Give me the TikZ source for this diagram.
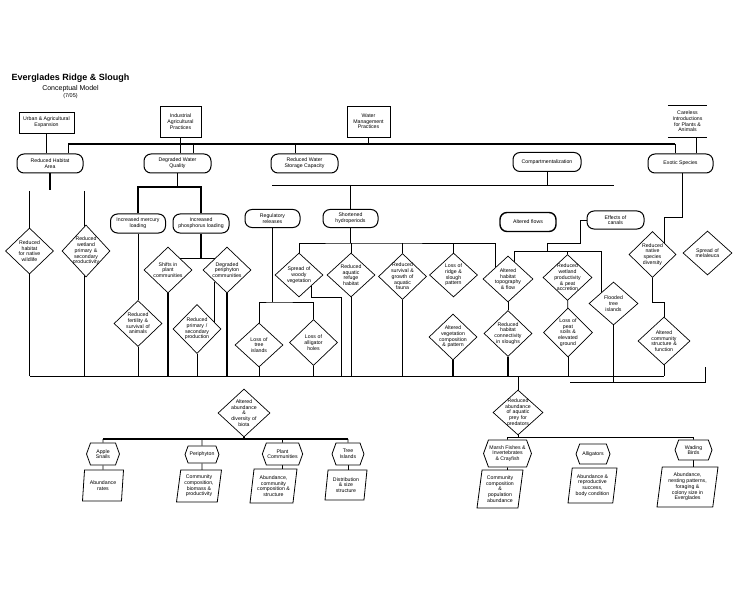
\documentclass[tikz,border=0pt]{standalone}
\usepackage{fontspec}
\setmainfont{Liberation Sans}
\usepackage{tikz}
\usetikzlibrary{shapes.geometric, shapes.symbols, positioning}
\pgfdeclarelayer{back}
\pgfsetlayers{back,main}

\begin{document}
\begin{tikzpicture}[x=1pt, y=-1pt,
  font=\fontsize{5.2}{5.7}\selectfont,
  driver/.style={rectangle, draw=black, line width=0.8pt, fill=white, align=center, inner sep=1pt},
  stress/.style={rectangle, rounded corners=7pt, draw=black, line width=1pt, fill=white, align=center, inner sep=1pt, minimum height=19pt},
  effect/.style={diamond, aspect=1, draw=black, line width=0.7pt, fill=white, align=center, inner sep=-5pt, text width=30pt, minimum width=48pt, minimum height=46pt},
  attrib/.style={signal, signal to=west and east, signal pointer angle=140, draw=black, line width=0.8pt, fill=white, align=center, inner sep=1pt},
  measure/.style={trapezium, trapezium left angle=80, trapezium right angle=100, trapezium stretches body, draw=black, line width=0.8pt, fill=white, align=center, inner sep=1pt},
  link/.style={line width=0.8pt},
  heavy/.style={line width=1.8pt}
]
\useasboundingbox (0,0) rectangle (744,596);

\node[font=\fontsize{9}{10}\selectfont\bfseries, inner sep=0pt] (title) at (70.5,78) {Everglades Ridge \& Slough};
\node[font=\fontsize{7}{8}\selectfont, inner sep=0pt, below=2.5pt of title] (subtitle) {Conceptual Model};
\node[font=\fontsize{5.5}{6}\selectfont, inner sep=0pt, below=1.5pt of subtitle] (date) {(7/05)};

\node[driver, minimum width=55pt, minimum height=21pt] (urban) at (46.5,122.5) {Urban \& Agricultural\\Expansion};
\node[driver, minimum width=41pt, minimum height=31pt] (agri) at (180.5,121.5) {Industrial\\Agricultural\\Practices};
\node[driver, minimum width=43pt, minimum height=31pt] (water) at (368.5,121.5) {Water\\Management\\Practices};
\node[align=center, inner sep=1pt, minimum width=39pt, minimum height=31pt] (intro) at (687.5,121.5) {Careless\\Introductions\\for Plants \&\\Animals};
\draw[line width=0.8pt] (intro.north west) -- (intro.north east) (intro.south west) -- (intro.south east);

\node[stress, minimum width=66pt] (habitat) at (50,163.5) {Reduced Habitat\\Area};
\node[stress, minimum width=67pt] (quality) at (177.5,163.5) {Degraded Water\\Quality};
\node[stress, minimum width=67pt] (storage) at (304.5,163.5) {Reduced Water\\Storage Capacity};
\node[stress, minimum width=68pt] (compart) at (547,162) {Compartmentalization};
\node[stress, minimum width=65pt] (exotic) at (680.5,163.5) {Exotic Species};

\node[stress, minimum width=55pt] (mercury) at (138,223.5) {Increased mercury\\loading};
\node[stress, minimum width=56pt] (phosph) at (201,223.5) {Increased\\phosphorus loading};
\node[stress, minimum width=55pt, minimum height=18pt] (releases) at (272.5,218.5) {Regulatory\\releases};
\node[stress, minimum width=55pt, minimum height=18pt] (hydro) at (350.5,218.5) {Shortened\\hydroperiods};
\node[stress, line width=1.4pt, minimum width=56pt] (flows) at (528,222) {Altered flows};
\node[stress, minimum width=57pt, minimum height=18pt] (canals) at (615.5,220) {Effects of\\canals};

\node[effect] (wildlife) at (29.5,251) {Reduced\\habitat\\for native\\wildlife};
\node[effect, minimum height=52pt] (product) at (86,251) {Reduced\\wetland\\primary \&\\secondary\\productivity};
\node[effect] (plants) at (168,270) {Shifts in\\plant\\communities};
\node[effect] (periph) at (227,270) {Degraded\\periphyton\\communities};
\node[effect] (fertil) at (138,323.5) {Reduced\\fertility \&\\survival of\\animals};
\node[effect, minimum height=49pt] (primary) at (197,329) {Reduced\\primary /\\secondary\\production};
\node[effect, minimum height=44pt] (woody) at (299,275) {Spread of\\woody\\vegetation};
\node[effect, minimum height=44pt] (refuge) at (351,275) {Reduced\\aquatic\\refuge\\habitat};
\node[effect] (survival) at (402.5,276.5) {Reduced\\survival \&\\growth of\\aquatic\\fauna};
\node[effect, minimum height=44pt] (pattern) at (453.5,275) {Loss of\\ridge \&\\slough\\pattern};
\node[effect, minimum width=50pt] (topo) at (508,279) {Altered\\habitat\\topography\\\& flow};
\node[effect] (vegcomp) at (453,337) {Altered\\vegetation\\composition\\\& pattern};
\node[effect] (connect) at (508,333.5) {Reduced\\habitat\\connectivity\\in sloughs};
\node[effect, minimum height=44pt] (tislands) at (259,345) {Loss of\\tree\\islands};
\node[effect] (aholes) at (313.5,342.5) {Loss of\\alligator\\holes};
\node[effect, minimum width=49pt] (peat) at (567.5,277.5) {Reduced\\wetland\\productivity\\\& peat\\accretion};
\node[effect, minimum width=49pt, minimum height=49pt] (soils) at (568,332.5) {Loss of\\peat\\soils \&\\elevated\\ground};
\node[effect, minimum width=49pt, minimum height=43pt] (flooded) at (613.5,303.5) {Flooded\\tree\\islands};
\node[effect, minimum width=47pt] (natives) at (652.5,254.5) {Reduced\\native species\\diversity};
\node[effect, minimum width=49pt, minimum height=44pt] (melal) at (707.5,253) {Spread of\\melaleuca};
\node[effect, minimum width=52pt, minimum height=48pt] (commun) at (664,341) {Altered\\community\\structure \&\\function};

\node[effect, minimum width=52pt, minimum height=48pt] (fauna) at (244,413) {Altered\\abundance \&\\diversity of\\biota};
\node[effect, minimum width=50pt, minimum height=45pt] (prey) at (518,412.5) {Reduced\\abundance\\of aquatic\\prey for\\predators};

\node[attrib, minimum width=33pt, minimum height=22pt] (snails) at (103,454) {Apple\\Snails};
\node[attrib, minimum width=34pt, minimum height=17pt] (periattr) at (202,454.5) {Periphyton};
\node[attrib, minimum width=39pt, minimum height=22pt] (plantcom) at (282.5,454) {Plant\\Communities};
\node[attrib, minimum width=32pt, minimum height=22pt] (treeisl) at (348,454) {Tree\\Islands};
\node[attrib, minimum width=39pt, minimum height=27pt] (marsh) at (507.5,453.5) {Marsh Fishes \&\\Invertebrates\\\& Crayfish};
\node[attrib, minimum width=34pt, minimum height=20pt] (gators) at (593,454) {Alligators};
\node[attrib, minimum width=37pt, minimum height=20pt] (birds) at (693.5,450) {Wading\\Birds};

\node[measure, minimum width=41pt, minimum height=31pt] (snailm) at (103,485.5) {Abundance\\rates};
\node[measure, minimum width=45pt, minimum height=32pt] (perim) at (199,486) {Community\\composition,\\biomass \&\\productivity};
\node[measure, minimum width=47pt, minimum height=34pt] (plantm) at (273.5,486) {Abundance,\\community\\composition \&\\structure};
\node[measure, minimum width=42pt, minimum height=30pt] (treem) at (346,485) {Distribution\\\& size\\structure};
\node[measure, minimum width=46pt, minimum height=38pt] (marshm) at (500,489) {Community\\composition\\\&\\population\\abundance};
\node[measure, minimum width=49pt, minimum height=35pt] (gatorm) at (592.5,485.5) {Abundance \&\\reproductive\\success,\\body condition};
\node[measure, minimum width=61pt, minimum height=40pt] (birdm) at (687.5,487) {Abundance,\\nesting patterns,\\foraging \&\\colony size in\\Everglades};

\coordinate (busL) at (68,144);
\coordinate (busR) at (675,144);
\coordinate (busQ) at (193,144);
\coordinate (busS) at (295,144);
\coordinate (lowL) at (29.5,376);
\coordinate (lowR) at (664,376);
\coordinate (habj) at (50,190);
\coordinate (w1) at (29.5,191);
\coordinate (w2) at (84,191);
\coordinate (qj) at (177.5,187);
\coordinate (pj) at (201,258.5);
\coordinate (cL) at (272,185);
\coordinate (cR) at (614,185);
\coordinate (hj) at (350.5,243);
\coordinate (rj) at (272.5,302);
\coordinate (wj) at (341,297);
\coordinate (kj) at (580,243);
\coordinate (kk) at (547,251);
\coordinate (k1) at (514,251);
\coordinate (k2) at (601,251);
\coordinate (lowL2) at (570,382);
\coordinate (lowR2) at (705,382);
\coordinate (stub) at (705,367);
\coordinate (ej) at (682,217);
\coordinate (ek) at (664,217);
\coordinate (nj) at (652.5,302);
\coordinate (aj) at (244,439);
\coordinate (bj) at (518,437);

\begin{pgfonlayer}{back}
\draw[line width=1.2pt] (busL) -- (busR);
\draw[link] (urban) -- (urban |- habitat.north);
\draw[link] (busL) -- (busL |- habitat.north);
\draw[link] (agri) -- (agri |- quality.north);
\draw[link] (busQ) -- (busQ |- quality.north);
\draw[link] (water) -- (water |- busL);
\draw[link] (busS) -- (busS |- storage.north);
\draw[link] (busR) -- (busR |- exotic.north);
\draw[link] (intro.-60) -- (intro.-60 |- exotic.north);

\draw[heavy] (habitat) -- (habj);
\draw[link] (w1) -- (wildlife);
\draw[link] (w2) -- (w2 |- product.center);
\draw[link] (lowL) -- (lowR);
\draw[link] (wildlife) -- (wildlife |- lowL);
\draw[link] (w2 |- product.center) -- (w2 |- lowL);

\draw[heavy] (quality) -- (qj);
\draw[heavy] (mercury) |- (qj) -| (phosph);
\draw[link] (mercury) -- (fertil);
\draw[link] (fertil) -- (fertil |- lowL);
\draw[heavy] (phosph) -- (pj);
\draw[link] (plants.north east) -- (periph.north west);
\draw[heavy] (plants) -- (plants |- lowL);
\draw[heavy] (periph) -- (periph |- lowL);
\draw[link] (periph.south west) -- (periph.south west |- primary.center);
\draw[link] (primary) -- (primary |- lowL);

\draw[link] (compart) -- (compart |- cL);
\draw[link] (cL) -- (cR);
\draw[link] (hydro |- cL) -- (hydro);
\draw[link] (hydro) -- (hj);
\draw[link] (woody) |- (hj) -| (topo.north west);
\draw[link] (refuge |- hj) -- (refuge);
\draw[link] (survival |- hj) -- (survival);
\draw[link] (pattern |- hj) -- (pattern);
\draw[link] (releases) -- (rj);
\draw[link] (tislands) |- (rj) -| (aholes);
\draw[link] (tislands) -- (tislands |- lowL);
\draw[link] (aholes) -- (aholes |- lowL);
\draw[link] (woody.south east) |- (wj) -- (wj |- lowL);
\draw[link] (refuge) -- (refuge |- lowL);
\draw[link] (survival) -- (survival |- lowL);
\draw[heavy] (vegcomp) -- (vegcomp |- lowL);
\draw[link] (topo) -- (connect);
\draw[heavy] (connect) -- (connect |- lowL);

\draw[link] (canals) -| (kj) -| (kk);
\draw[link] (k1) -- (k2);
\draw[link] (k1) -- (k1 |- topo.center);
\draw[link] (peat |- k1) -- (peat);
\draw[link] (k2) -- (k2 |- flooded.center);
\draw[link] (peat) -- (soils);
\draw[link] (soils) -- (soils |- lowL);
\draw[link] (lowL2) -- (lowR2) -- (stub);
\draw[link] (flooded) -- (flooded |- lowL2);

\draw[link] (exotic.south -| ej) -- (ej) -- (ek) -- (ek |- natives.center);
\draw[link] (natives) |- (nj) -| (commun);
\draw[link] (commun) -- (commun |- lowL);

\draw[link] (prey |- lowL) -- (prey);
\draw[heavy] (fauna) -- (aj);
\draw[heavy] (snails |- aj) -- (treeisl |- aj);
\foreach \n in {snails, periattr, plantcom, treeisl}
  \draw[link] (\n |- aj) -- (\n);
\draw[link] (snails) -- (snailm);
\draw[link] (periattr) -- (periattr |- perim.center);
\draw[link] (plantcom) -- (plantcom |- plantm.center);
\draw[link] (treeisl) -- (treeisl |- treem.center);
\draw[link] (prey) -- (bj);
\draw[link] (marsh |- bj) -- (birds |- bj);
\draw[link] (marsh |- bj) -- (marsh);
\draw[link] (birds |- bj) -- (birds);
\draw[link] (marsh) -- (marsh |- marshm.center);
\draw[link] (birds) -- (birds |- birdm.center);
\end{pgfonlayer}
\end{tikzpicture}
\end{document}
